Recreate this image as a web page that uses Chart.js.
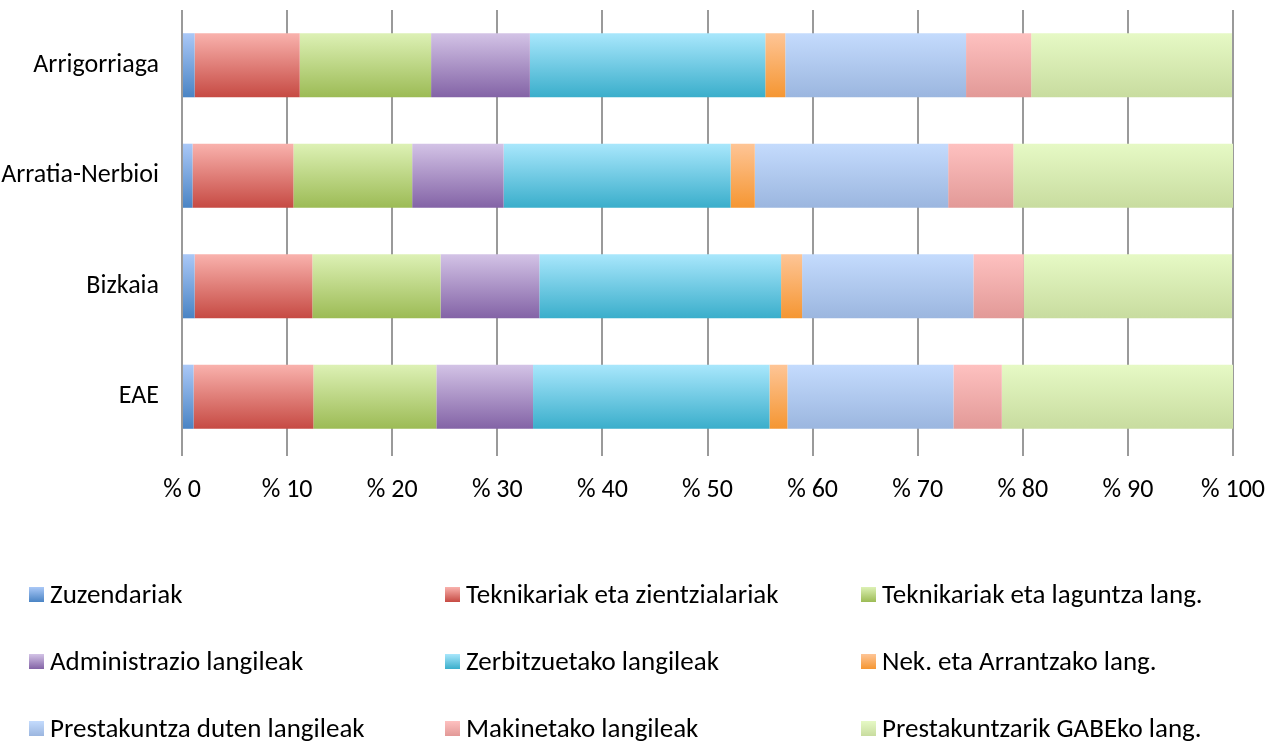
<!DOCTYPE html>
<html>
<head>
<meta charset="utf-8">
<script src="https://cdn.jsdelivr.net/npm/chart.js@4"></script>
<style>
  html, body { margin: 0; padding: 0; background: #fff; }
  #wrap { width: 1270px; height: 745px; }
</style>
</head>
<body>
<div id="wrap"><canvas id="workersChart" width="1270" height="745"></canvas></div>
<script>
const categories = ["Arrigorriaga", "Arratia-Nerbioi", "Bizkaia", "EAE"];
const seriesNames = [
    "Zuzendariak",
    "Teknikariak eta zientzialariak",
    "Teknikariak eta laguntza lang.",
    "Administrazio langileak",
    "Zerbitzuetako langileak",
    "Nek. eta Arrantzako lang.",
    "Prestakuntza duten langileak",
    "Makinetako langileak",
    "Prestakuntzarik GABEko lang."
];
// percent of each category, one array per series (order follows categories)
const zuzendariak = [1.2, 1.0, 1.2, 1.1];
const teknikariakZientzia = [10.0, 9.6, 11.2, 11.4];
const teknikariakLaguntza = [12.5, 11.3, 12.2, 11.7];
const administrazio = [9.4, 8.7, 9.4, 9.2];
const zerbitzuetako = [22.4, 21.6, 23.0, 22.5];
const nekazaritza = [1.9, 2.3, 2.0, 1.7];
const prestakuntzaDuten = [17.2, 18.4, 16.3, 15.8];
const makinetako = [6.2, 6.2, 4.8, 4.6];
const prestakuntzarikGabe = [19.1, 20.9, 19.8, 22.0];
const xTicks = [0, 10, 20, 30, 40, 50, 60, 70, 80, 90, 100];

const seriesValues = [zuzendariak, teknikariakZientzia, teknikariakLaguntza, administrazio,
    zerbitzuetako, nekazaritza, prestakuntzaDuten, makinetako, prestakuntzarikGabe];

// gradient stops, light top -> darker bottom
const colorStops = [
    ["#aac8f7", "#4a84c4"],
    ["#f9b2ad", "#c64a43"],
    ["#ddf1b5", "#9cbb55"],
    ["#d3c3e6", "#8363a6"],
    ["#a9e7fc", "#3aaecb"],
    ["#fec596", "#f59632"],
    ["#c4dbfd", "#9bb6df"],
    ["#fec1c0", "#e29997"],
    ["#e6f9c5", "#c8dc9f"]
];

const BAR_FRACTION = 0.58;
const FONT = "Carlito, Lato, 'Liberation Sans', sans-serif";

function barGradient(context, i) {
    const chart = context.chart;
    const yScale = chart.scales.y;
    if (!chart.chartArea || !yScale || context.dataIndex === undefined) {
        return colorStops[i][1];
    }
    const center = yScale.getPixelForValue(context.dataIndex);
    const half = (yScale.height / categories.length) * BAR_FRACTION / 2;
    const g = chart.ctx.createLinearGradient(0, center - half, 0, center + half);
    g.addColorStop(0, colorStops[i][0]);
    g.addColorStop(1, colorStops[i][1]);
    return g;
}

const legendGrid = {
    id: "legendGrid",
    afterDraw: function (chart) {
        const ctx = chart.ctx;
        const colX = [29, 445, 861];
        const rowY = [595, 662, 729];
        ctx.save();
        ctx.font = "27px " + FONT;
        ctx.textBaseline = "middle";
        ctx.textAlign = "left";
        chart.data.datasets.forEach(function (ds, i) {
            const x = colX[i % 3];
            const y = rowY[Math.floor(i / 3)];
            const g = ctx.createLinearGradient(0, y - 8, 0, y + 7);
            g.addColorStop(0, colorStops[i][0]);
            g.addColorStop(1, colorStops[i][1]);
            ctx.fillStyle = g;
            ctx.fillRect(x, y - 8, 15, 15);
            ctx.fillStyle = "#000";
            ctx.fillText(ds.label, x + 21, y + 1);
        });
        ctx.restore();
    }
};

new Chart(document.getElementById("workersChart"), {
    type: "bar",
    data: {
        labels: categories,
        datasets: seriesNames.map(function (name, i) {
            return {
                label: name,
                data: seriesValues[i],
                backgroundColor: function (context) { return barGradient(context, i); },
                borderWidth: 0,
                categoryPercentage: 1,
                barPercentage: BAR_FRACTION
            };
        })
    },
    options: {
        indexAxis: "y",
        responsive: false,
        animation: false,
        layout: {
            padding: { top: 10, right: 37, bottom: 233, left: 0 }
        },
        plugins: {
            legend: { display: false },
            tooltip: { enabled: false }
        },
        scales: {
            x: {
                stacked: true,
                min: 0,
                max: 100,
                afterBuildTicks: function (scale) {
                    scale.ticks = xTicks.map(function (v) { return { value: v }; });
                },
                afterFit: function (scale) {
                    scale.height = 60;
                    scale.paddingLeft = 0;
                    scale.paddingRight = 0;
                },
                grid: {
                    color: "#9a9a9a",
                    lineWidth: 2,
                    drawTicks: true,
                    tickLength: 4
                },
                border: { display: false },
                ticks: {
                    color: "#000",
                    padding: 19,
                    maxRotation: 0,
                    font: { family: FONT, size: 26 },
                    callback: function (value) { return "% " + value; }
                }
            },
            y: {
                stacked: true,
                afterFit: function (scale) {
                    scale.width = 182;
                    scale.paddingTop = 0;
                    scale.paddingBottom = 0;
                },
                grid: { display: false, drawTicks: false },
                border: { display: false },
                ticks: {
                    color: "#000",
                    padding: 23,
                    font: { family: FONT, size: 26 }
                }
            }
        }
    },
    plugins: [legendGrid]
});
</script>
</body>
</html>
